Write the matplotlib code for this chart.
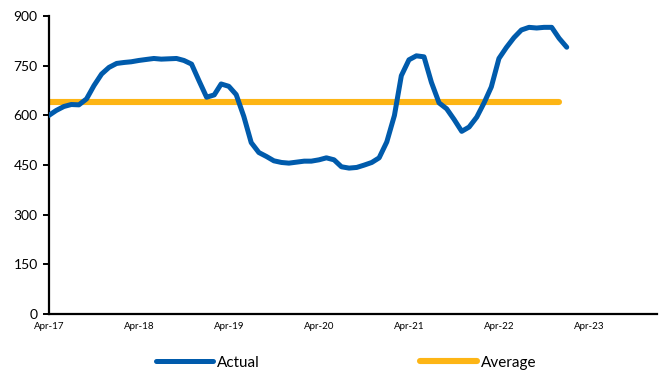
import matplotlib
matplotlib.use("Agg")
import matplotlib.pyplot as plt
import matplotlib.dates as mdates
import numpy as np
import pandas as pd

plt.rcParams['font.family'] = ['Lato', 'DejaVu Sans']

# monthly series, Apr-17 .. Jan-23
start = "2017-04-01"
actual = [600, 615, 627, 633, 632, 650, 690, 725, 745, 757,
          760, 762, 766, 769, 772, 770, 771, 772, 766, 755,
          705, 655, 662, 695, 688, 663, 597, 518, 488, 476,
          463, 458, 456, 459, 462, 462, 466, 472, 466, 445,
          441, 443, 450, 458, 472, 520, 600, 720, 768, 780,
          777, 700, 638, 620, 588, 552, 565, 595, 640, 686,
          772, 805, 835, 858, 866, 864, 866, 866, 833, 806]
average_value = 640
average_months = 69

y_ticks = [0, 150, 300, 450, 600, 750, 900]

dates = pd.date_range(start, periods=len(actual), freq="MS")
avg_dates = dates[:average_months]
average = np.full(average_months, average_value)

fig = plt.figure(figsize=(6.6, 3.74), dpi=100)
ax = fig.add_axes([0.074, 0.16, 0.921, 0.797])

ax.plot(dates, actual, color="#005BAC", lw=3.6, solid_capstyle="round",
        solid_joinstyle="round", label="Actual", zorder=3)
ax.plot(avg_dates, average, color="#FDB515", lw=4.4, solid_capstyle="round",
        label="Average", zorder=2)

ax.set_ylim(0, 900)
ax.set_yticks(y_ticks)
ax.set_xlim(pd.Timestamp("2017-04-01"), pd.Timestamp("2024-01-01"))
ax.xaxis.set_major_locator(mdates.MonthLocator(bymonth=4))
ax.xaxis.set_major_formatter(mdates.DateFormatter("%b-%y"))

for s in ["top", "right"]:
    ax.spines[s].set_visible(False)
for s in ["left", "bottom"]:
    ax.spines[s].set_linewidth(1.6)
    ax.spines[s].set_color("black")

ax.tick_params(axis="y", length=4, width=1.4, labelsize=10, pad=4)
ax.tick_params(axis="x", length=0, labelsize=7, pad=6)

fig.legend(loc="center", bbox_to_anchor=(0.525, 0.03), ncol=2, frameon=False,
           fontsize=11, handlelength=3.7, columnspacing=10.5, handletextpad=0.3)

fig.savefig("out.png", dpi=100)
